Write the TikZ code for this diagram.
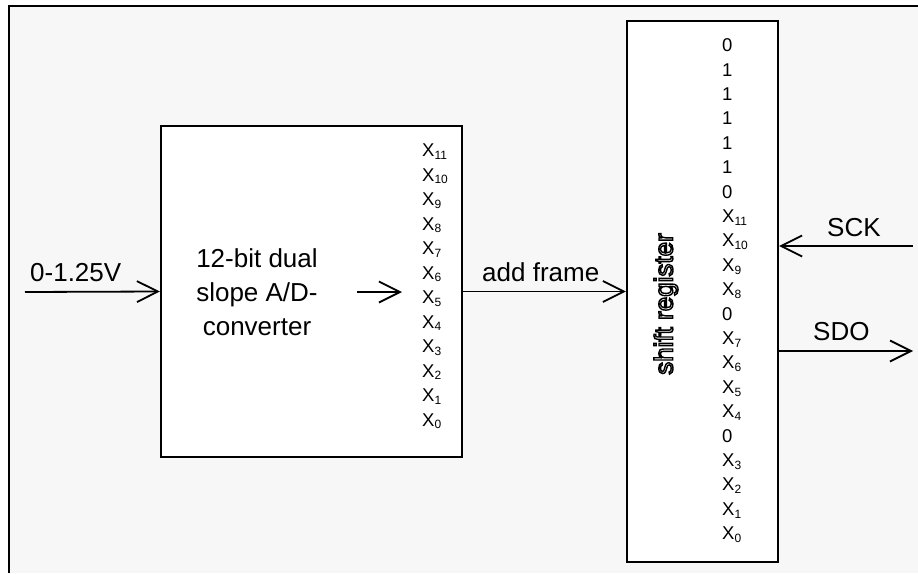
\documentclass[tikz,border=0pt]{standalone}
\usepackage{fontspec}
\setmainfont{Liberation Sans}
\usetikzlibrary{arrows.meta}
\definecolor{bg}{HTML}{F7F7F7}
\newcommand{\Xsub}[1]{X\raisebox{-0.15em}{\fontsize{12}{12}\selectfont #1}}
\newcommand{\outlinetext}[1]{\special{pdf:literal direct 1 Tr 1.4 w}#1\special{pdf:literal direct 0 Tr}}
\begin{document}
\begin{tikzpicture}[x=1pt,y=-1pt,
  box/.style={draw=black, line width=2.2pt, fill=white, inner sep=0pt},
  arr/.style={line width=1.8pt, -{Straight Barb[length=21pt,width=21pt,line width=1.8pt]}},
  big/.style={font=\fontsize{26}{34}\selectfont, inner sep=0pt},
  bit/.style={font=\fontsize{18.5}{18.5}\selectfont, inner sep=0pt, anchor=base west}]
\useasboundingbox (0,0) rectangle (918,573);
\fill[white] (0,0) rectangle (918,573);
\fill[bg] (9,6) rectangle (918,573);
\draw[line width=2.5pt] (9,573) -- (9,6) -- (918,6);

% blocks
\node[box, minimum width=301pt, minimum height=331pt] (adc) at (311.5,291.5) {};
\node[box, minimum width=151pt, minimum height=541pt] (sr) at (702.5,291.5) {};

% ADC text
\node[big, align=center] (adctxt) at (257,292) {12-bit dual\\slope A/D-\\converter};
\coordinate (a1) at (357,292);
\coordinate (a2) at (402,292);
\draw[arr] (a1) -- (a2);

% ADC outputs
\foreach \t [count=\i from 0] in {11,10,9,8,7,6,5,4,3,2,1,0}
  \node[bit] (ax\i) at (422,{156.7+\i*24.5}) {\Xsub{\t}};

% shift register contents
\foreach \t [count=\i from 0] in {0,1,1,1,1,1,0,\Xsub{11},\Xsub{10},\Xsub{9},\Xsub{8},0,\Xsub{7},\Xsub{6},\Xsub{5},\Xsub{4},0,\Xsub{3},\Xsub{2},\Xsub{1},\Xsub{0}}
  \node[bit] (sx\i) at (722,{51.7+\i*24.4}) {\t};
\node[big, rotate=90] (srtxt) at (666,304) {\outlinetext{shift register}};

% input
\coordinate (inS) at (25,292);
\draw[arr] (inS) -- (adc.west);
\node[big, anchor=base west] (inlbl) at (30,281) {0-1.25V};

% add frame
\draw[arr] (adc.east) -- (sr.west);
\node[big, anchor=base west] (aflbl) at (482,281) {add frame};

% SCK
\coordinate (sckS) at (913,246);
\draw[arr] (sckS) -- (sckS -| sr.east);
\node[big, anchor=base west] (scklbl) at (827,236) {SCK};

% SDO
\coordinate (sdoE) at (913,351);
\draw[arr] (sdoE -| sr.east) -- (sdoE);
\node[big, anchor=base west] (sdolbl) at (813,340) {SDO};
\end{tikzpicture}
\end{document}
